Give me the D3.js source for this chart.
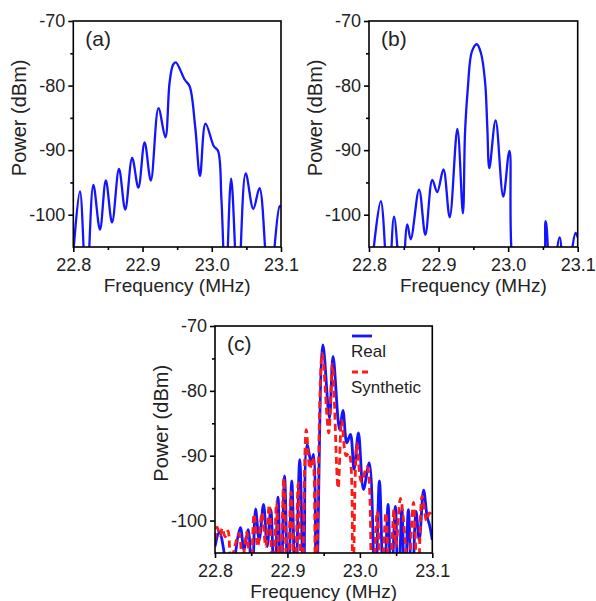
<!DOCTYPE html>
<html>
<head>
<meta charset="utf-8">
<script src="https://cdn.jsdelivr.net/npm/d3@7"></script>
<style>
  html, body { margin: 0; padding: 0; background: #fff; }
  svg { display: block; }
  text { font-family: "Liberation Sans", Arial, sans-serif; fill: #222; }
</style>
</head>
<body>
<svg id="chart" width="596" height="601"></svg>
<script>
// ---------- data ----------
const xTicks = [22.8, 22.9, 23.0, 23.1];
const xTickLabels = ["22.8", "22.9", "23.0", "23.1"];
const xMinorTicks = [22.85, 22.95, 23.05];
const yTicks = [-70, -80, -90, -100];
const yTickLabels = ["-70", "-80", "-90", "-100"];
const yMinorTicks = [-75, -85, -95];

// Panel (a)
const freqA = [22.800, 22.8096, 22.819, 22.829, 22.8385, 22.847, 22.856, 22.866, 22.875, 22.885,
  22.894, 22.903, 22.912, 22.923, 22.933, 22.939, 22.944, 22.948, 22.961, 22.968, 22.976, 22.983,
  22.991, 23.003, 23.009, 23.014, 23.020, 23.028, 23.038, 23.049, 23.060, 23.069, 23.083, 23.098, 23.100];
const powerA = [-106, -96.4, -112, -95.4, -102.3, -94.7, -101.2, -92.9, -99.2, -91.2,
  -95.8, -88.8, -94.7, -83.5, -88.0, -79.6, -76.8, -76.4, -79.1, -80.1, -86.3, -94.0,
  -85.9, -89.4, -90.1, -97.7, -112, -94.4, -112, -93.6, -99.1, -95.9, -112, -98.7, -98.8];

// Panel (b)
const freqB = [22.806, 22.817, 22.828, 22.836, 22.847, 22.855, 22.860, 22.872, 22.881, 22.891,
  22.898, 22.907, 22.916, 22.927, 22.935, 22.938, 22.942, 22.948, 22.955, 22.961, 22.967, 22.970,
  22.973, 22.982, 22.993, 23.002, 23.016, 23.045, 23.054, 23.062, 23.074, 23.082, 23.097, 23.100];
const powerB = [-106, -97.9, -112, -100.3, -112, -101.5, -103.8, -96.1, -103.1, -94.6,
  -96.5, -93.0, -100.4, -86.7, -99.8, -87.4, -80.5, -74.7, -73.6, -75.0, -79.6, -86.3,
  -92.8, -85.4, -97.2, -90.1, -112, -112, -101.0, -112, -103.5, -112, -102.8, -103.5];

// Panel (c) - Real
const freqReal = [22.800, 22.806, 22.812, 22.818, 22.835, 22.840, 22.846, 22.851, 22.856, 22.861,
  22.867, 22.872, 22.877, 22.882, 22.887, 22.891, 22.896, 22.901, 22.906, 22.911, 22.917, 22.9225,
  22.927, 22.933, 22.936, 22.940, 22.949, 22.958, 22.963, 22.972, 22.9766, 22.982, 22.987, 22.992,
  22.998, 23.005, 23.013, 23.021, 23.027, 23.033, 23.039, 23.043, 23.049, 23.053, 23.058, 23.062,
  23.067, 23.072, 23.0775, 23.082, 23.088, 23.093, 23.096, 23.100];
const powerReal = [-104, -101.8, -104.5, -112, -101.1, -104.5, -101.4, -112, -98.2, -103,
  -97.5, -104, -98.3, -112, -96.4, -112, -93.1, -112, -93.9, -112, -90.6, -112,
  -88.3, -91.1, -89.8, -112, -72.9, -84.2, -74.7, -86.0, -83.0, -88.0, -86.7, -92.1,
  -86.5, -95.2, -91.1, -112, -93.9, -112, -97.5, -112, -97.8, -112, -98.2, -112,
  -98.3, -112, -98.6, -103, -95.3, -99.5, -100.6, -103];

// Panel (c) - Synthetic
const freqSyn = [22.800, 22.803, 22.807, 22.810, 22.814, 22.818, 22.822, 22.833, 22.838, 22.844,
  22.849, 22.854, 22.859, 22.865, 22.870, 22.875, 22.880, 22.885, 22.890, 22.895, 22.900, 22.905,
  22.910, 22.915, 22.920, 22.926, 22.931, 22.935, 22.939, 22.948, 22.957, 22.962, 22.970, 22.975,
  22.981, 22.985, 22.990, 22.996, 23.002, 23.010, 23.017, 23.024, 23.029, 23.036, 23.041, 23.047,
  23.050, 23.056, 23.0625, 23.066, 23.074, 23.080, 23.086, 23.092, 23.096, 23.100];
const powerSyn = [-103, -101.0, -102.3, -101.2, -102.5, -101.6, -106, -102.0, -106, -101.8,
  -112, -99.0, -104, -98.8, -104, -97.6, -112, -97.2, -112, -93.5, -112, -95.6,
  -112, -94.2, -112, -86.0, -92.0, -90.3, -112, -74.2, -86.5, -75.9, -95.0, -84.5,
  -90.0, -89.6, -112, -88.1, -94.0, -91.7, -112, -98.5, -112, -98.8, -112, -98.3,
  -104, -96.6, -103, -112, -97.2, -112, -96.2, -100, -98.8, -99.3];

const legendLabels = ["Real", "Synthetic"];
const panelLabels = ["(a)", "(b)", "(c)"];

// ---------- drawing ----------
const svg = d3.select("#chart");
const BLUE = "#1414ff", RED = "#ff1a1a";
let clipId = 0;

function drawPanel(box, label, series) {
  const x = d3.scaleLinear().domain([22.8, 23.1]).range([box.left, box.right]);
  const y = d3.scaleLinear().domain([-105, -70]).range([box.bottom, box.top]);
  const g = svg.append("g");

  const cid = "clip" + (clipId++);
  g.append("clipPath").attr("id", cid).append("rect")
    .attr("x", box.left).attr("y", box.top)
    .attr("width", box.right - box.left).attr("height", box.bottom - box.top);

  const line = d3.line().x(d => x(d[0])).y(d => y(d[1])).curve(d3.curveCatmullRom.alpha(0.5));
  const lines = g.append("g").attr("clip-path", `url(#${cid})`);
  series.forEach(s => {
    lines.append("path")
      .datum(d3.zip(s.freq, s.power))
      .attr("d", line)
      .attr("fill", "none")
      .attr("stroke", s.color)
      .attr("stroke-width", s.width)
      .attr("stroke-dasharray", s.dash || null)
      .attr("stroke-linejoin", "round");
  });

  // frame
  g.append("rect")
    .attr("x", box.left).attr("y", box.top)
    .attr("width", box.right - box.left).attr("height", box.bottom - box.top)
    .attr("fill", "none").attr("stroke", "#000").attr("stroke-width", 1.6);

  // axes
  const xAxis = d3.axisBottom(x).tickValues(xTicks)
    .tickFormat((d, i) => xTickLabels[i]).tickSize(5).tickPadding(6);
  const xa = g.append("g").attr("transform", `translate(0,${box.bottom})`).call(xAxis);
  const xMinor = d3.axisBottom(x).tickValues(xMinorTicks).tickFormat("").tickSize(3);
  const xm = g.append("g").attr("transform", `translate(0,${box.bottom})`).call(xMinor);

  const yAxis = d3.axisLeft(y).tickValues(yTicks)
    .tickFormat((d, i) => yTickLabels[i]).tickSize(5).tickPadding(3);
  const ya = g.append("g").attr("transform", `translate(${box.left},0)`).call(yAxis);
  const yMinor = d3.axisLeft(y).tickValues(yMinorTicks).tickFormat("").tickSize(3);
  const ym = g.append("g").attr("transform", `translate(${box.left},0)`).call(yMinor);

  [xa, xm, ya, ym].forEach(a => {
    a.select(".domain").remove();
    a.selectAll(".tick line").attr("stroke", "#000").attr("stroke-width", 1.6);
    a.selectAll("text").attr("font-size", 18).attr("fill", "#222")
      .attr("font-family", "'Liberation Sans', Arial, sans-serif");
  });

  // axis titles
  g.append("text")
    .attr("x", (box.left + box.right) / 2).attr("y", box.bottom + 45)
    .attr("text-anchor", "middle").attr("font-size", 19)
    .text("Frequency (MHz)");
  g.append("text")
    .attr("transform", `translate(${box.left - 54},${y(-85)}) rotate(-90)`)
    .attr("dy", "0.35em")
    .attr("text-anchor", "middle").attr("font-size", 20)
    .text("Power (dBm)");

  // panel label
  g.append("text")
    .attr("x", box.left + 12).attr("y", box.top + 25)
    .attr("font-size", 21).text(label);

  return { g, x, y };
}

drawPanel({ left: 73.3, right: 281, top: 21, bottom: 247 }, panelLabels[0],
  [{ freq: freqA, power: powerA, color: BLUE, width: 2.3 }]);
drawPanel({ left: 369, right: 577.7, top: 21, bottom: 247 }, panelLabels[1],
  [{ freq: freqB, power: powerB, color: BLUE, width: 2.3 }]);
const pc = drawPanel({ left: 215, right: 432.3, top: 326, bottom: 553 }, panelLabels[2],
  [{ freq: freqReal, power: powerReal, color: BLUE, width: 2.8 },
   { freq: freqSyn, power: powerSyn, color: RED, width: 2.8, dash: "7,4" }]);

// legend
const lg = pc.g.append("g");
const lx = 352;
[{ c: BLUE, dash: null, ly: 336, ty: 357 }, { c: RED, dash: "6,4", ly: 372, ty: 393 }]
  .forEach((it, i) => {
    lg.append("line").attr("x1", lx).attr("x2", lx + 20)
      .attr("y1", it.ly).attr("y2", it.ly)
      .attr("stroke", it.c).attr("stroke-width", 2.8)
      .attr("stroke-dasharray", it.dash);
    lg.append("text").attr("x", lx - 1).attr("y", it.ty)
      .attr("font-size", 17).text(legendLabels[i]);
  });
</script>
</body>
</html>
